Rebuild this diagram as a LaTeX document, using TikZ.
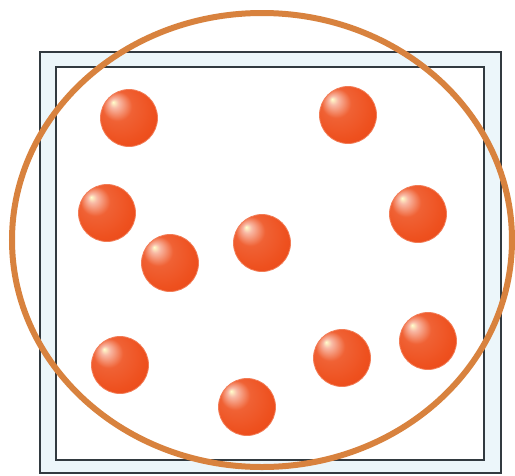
\documentclass[tikz,border=0pt]{standalone}
\usetikzlibrary{shapes.geometric}
\definecolor{ballc}{RGB}{238,80,30}
\definecolor{ringc}{RGB}{216,130,62}
\definecolor{gapc}{RGB}{236,246,250}
\definecolor{framec}{RGB}{50,58,64}
\pgfdeclareradialshading{orb}{\pgfpoint{-14bp}{14bp}}{%
  color(0bp)=(white!80!yellow);
  color(4bp)=(ballc!40!white);
  color(13bp)=(ballc!90!white);
  color(28bp)=(ballc);
  color(50bp)=(ballc!85!red!92!black)}
\tikzset{
  orbball/.style={circle,minimum size=57pt,inner sep=0pt,shading=orb,draw=ballc!75!white,line width=0.8pt},
  framebox/.style={draw=framec,line width=1.8pt},
}
\begin{document}
\begin{tikzpicture}[x=1pt,y=-1pt]
\useasboundingbox (0,0) rectangle (515,475);
\fill[white] (0,0) rectangle (515,475);
% frame
\filldraw[framebox,fill=gapc] (40,52) rectangle (501,473);
\filldraw[framebox,fill=white] (56,67) rectangle (484,460);
% balls
\node[orbball] (b1) at (129,118) {};
\node[orbball] (b2) at (107,213) {};
\node[orbball] (b3) at (348,115) {};
\node[orbball] (b4) at (418,214) {};
\node[orbball] (b5) at (170,263) {};
\node[orbball] (b6) at (262,243) {};
\node[orbball] (b7) at (120,365) {};
\node[orbball] (b8) at (247,407) {};
\node[orbball] (b9) at (342,358) {};
\node[orbball] (b10) at (428,341) {};
% ring
\node[ellipse,draw=ringc,line width=6pt,minimum width=500pt,minimum height=454pt,inner sep=0pt] (ring) at (262,240) {};
\end{tikzpicture}
\end{document}
